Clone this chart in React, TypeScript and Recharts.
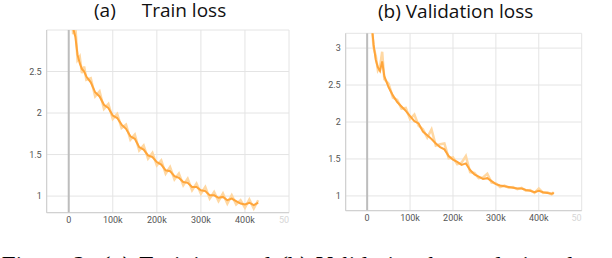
import React from 'react'
import { LineChart, Line, XAxis, YAxis, CartesianGrid, ReferenceLine } from 'recharts'

// steps in thousands
const trainSteps = [5, 10, 15, 20, 25, 30, 35, 40, 50, 60, 70, 80, 90, 100, 110, 120, 130, 140, 150, 160, 170, 180, 190, 200, 210, 220, 230, 240, 250, 260, 270, 280, 290, 300, 310, 320, 330, 340, 350, 360, 370, 380, 390, 400, 410, 420, 430]
const trainLoss = [3.35, 3.02, 2.92, 2.7, 2.6, 2.53, 2.5, 2.44, 2.37, 2.25, 2.2, 2.1, 2.06, 1.97, 1.94, 1.86, 1.81, 1.72, 1.69, 1.59, 1.56, 1.49, 1.47, 1.41, 1.38, 1.31, 1.3, 1.24, 1.22, 1.17, 1.16, 1.11, 1.11, 1.07, 1.06, 1.01, 1.01, 0.98, 0.99, 0.95, 0.97, 0.94, 0.91, 0.9, 0.92, 0.89, 0.92]
const trainRaw = [3.45, 2.95, 3.05, 2.64, 2.68, 2.48, 2.56, 2.4, 2.42, 2.2, 2.26, 2.05, 2.11, 1.93, 1.99, 1.82, 1.86, 1.68, 1.74, 1.55, 1.61, 1.45, 1.52, 1.37, 1.43, 1.27, 1.35, 1.2, 1.27, 1.13, 1.21, 1.07, 1.15, 1.03, 1.11, 0.97, 1.05, 0.94, 1.03, 0.91, 1.01, 0.9, 0.95, 0.86, 0.96, 0.85, 0.95]

const valSteps = [10, 15, 20, 25, 30, 35, 40, 50, 60, 70, 80, 90, 100, 110, 120, 130, 140, 150, 160, 170, 180, 190, 200, 210, 220, 230, 240, 250, 260, 270, 280, 290, 300, 310, 320, 330, 340, 350, 360, 370, 380, 390, 400, 410, 420, 430, 435]
const valLoss = [3.35, 3.05, 2.84, 2.74, 2.69, 2.82, 2.62, 2.47, 2.36, 2.27, 2.21, 2.15, 2.08, 2.01, 1.98, 1.87, 1.82, 1.77, 1.71, 1.66, 1.63, 1.54, 1.49, 1.46, 1.42, 1.44, 1.35, 1.29, 1.26, 1.23, 1.24, 1.2, 1.16, 1.14, 1.13, 1.12, 1.11, 1.1, 1.1, 1.08, 1.07, 1.05, 1.07, 1.05, 1.04, 1.03, 1.04]
const valRaw = [3.4, 3.0, 2.9, 2.7, 2.75, 2.95, 2.58, 2.52, 2.33, 2.3, 2.18, 2.19, 2.04, 2.1, 1.95, 1.9, 1.79, 1.9, 1.68, 1.7, 1.71, 1.51, 1.52, 1.43, 1.45, 1.54, 1.32, 1.31, 1.24, 1.25, 1.3, 1.18, 1.17, 1.12, 1.14, 1.11, 1.12, 1.09, 1.11, 1.07, 1.08, 1.04, 1.1, 1.04, 1.05, 1.02, 1.05]

const xTicks = [0, 100000, 200000, 300000, 400000, 500000]

const trainData = trainSteps.map((s, i) => ({ step: s * 1000, loss: trainLoss[i], raw: trainRaw[i] }))
const valData = valSteps.map((s, i) => ({ step: s * 1000, loss: valLoss[i], raw: valRaw[i] }))

const FONT = 'Roboto, "Noto Sans", sans-serif'
const ORANGE = '#ffa53a'
const BAND = '#ffd8a3'

function XTick(props: any) {
  const { x, y, payload } = props
  const v = payload.value
  if (v === 500000) {
    return (
      <text x={x} y={y} dy="0.71em" textAnchor="end" fill="#d6d6d6" fontSize={9} fontFamily={FONT}>
        50
      </text>
    )
  }
  return (
    <text x={x} y={y} dy="0.71em" textAnchor="middle" fill="#555" fontSize={9} fontFamily={FONT}>
      {v === 0 ? '0' : `${v / 1000}k`}
    </text>
  )
}

function LossPanel({ data, yDomain, yTicks, margin, yWidth }: any) {
  return (
    <LineChart width={300} height={240} data={data} margin={margin}>
      <CartesianGrid stroke="#e4e4e4" vertical horizontal />
      <XAxis
        dataKey="step"
        type="number"
        domain={[-50000, 500000]}
        ticks={xTicks}
        interval={0}
        allowDataOverflow
        height={20}
        tickSize={0}
        tickMargin={4}
        tickLine={false}
        axisLine={{ stroke: '#cccccc' }}
        tick={<XTick />}
      />
      <YAxis
        type="number"
        domain={yDomain}
        ticks={yTicks}
        interval={0}
        allowDataOverflow
        width={yWidth}
        tickSize={0}
        tickMargin={5}
        tickLine={false}
        axisLine={{ stroke: '#cccccc' }}
        tick={{ fontSize: 9, fill: '#555', fontFamily: FONT }}
      />
      <ReferenceLine x={0} stroke="#bdbdbd" strokeWidth={2} />
      <Line dataKey="raw" type="linear" stroke={BAND} strokeWidth={2.5} dot={false} isAnimationActive={false} />
      <Line dataKey="loss" type="linear" stroke={ORANGE} strokeWidth={2} dot={false} isAnimationActive={false} />
    </LineChart>
  )
}

const titleStyle: React.CSSProperties = {
  position: 'absolute',
  fontFamily: '"Open Sans", sans-serif',
  fontSize: 19,
  lineHeight: '19px',
  color: '#111',
  whiteSpace: 'nowrap',
}

const capStyle: React.CSSProperties = {
  position: 'absolute',
  top: 253,
  fontFamily: '"Liberation Serif", "Times New Roman", serif',
  fontSize: 25,
  lineHeight: '25px',
  color: '#000',
  whiteSpace: 'nowrap',
}

export default function App() {
  return (
    <div style={{ position: 'absolute', left: 0, top: 0, width: 612, height: 258, overflow: 'hidden', background: '#fff' }}>
      <span style={{ ...titleStyle, left: 94, top: 0.5 }}>(a)</span>
      <span style={{ ...titleStyle, left: 141.7, top: 0.5 }}>Train loss</span>
      <span style={{ ...titleStyle, left: 378, top: 1.5 }}>(b) Validation loss</span>

      <div style={{ position: 'absolute', left: 0, top: 0 }}>
        <LossPanel
          data={trainData}
          yDomain={[0.8, 3]}
          yTicks={[1, 1.5, 2, 2.5]}
          yWidth={46.7}
          margin={{ top: 30, right: 11, bottom: 7.3, left: 0 }}
        />
      </div>
      <div style={{ position: 'absolute', left: 300, top: 0 }}>
        <LossPanel
          data={valData}
          yDomain={[0.8, 3.2]}
          yTicks={[1, 1.5, 2, 2.5, 3]}
          yWidth={45.7}
          margin={{ top: 33.3, right: 18.3, bottom: 9.3, left: 0 }}
        />
      </div>

      <span style={{ ...capStyle, left: 1.7 }}>Figure 2:</span>
      <span style={{ ...capStyle, left: 100, fontStyle: 'italic', wordSpacing: 2 }}>(a) Training and (b) Validation loss</span>
      <span style={{ ...capStyle, left: 489 }}>during the</span>
    </div>
  )
}
